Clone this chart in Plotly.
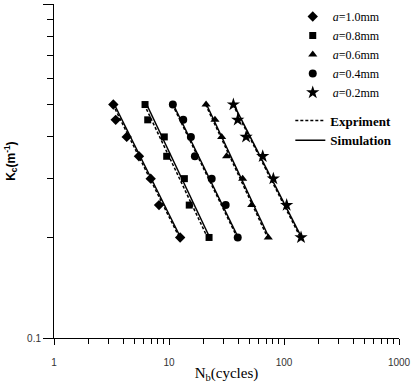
import plotly.graph_objects as go

# ---- data ----
kc_levels = [0.5, 0.45, 0.4, 0.35, 0.3, 0.25, 0.2]
nb_a10 = [3.28, 3.44, 4.29, 5.48, 6.93, 8.19, 12.5]
nb_a08 = [6.19, 6.53, 9.10, 9.55, 13.6, 15.0, 22.3]
nb_a06 = [21.0, 25.1, 28.7, 31.7, 43.7, 52.4, 73.0]
nb_a04 = [10.8, 13.3, 15.5, 16.8, 23.5, 31.1, 39.6]
nb_a02 = [36.3, 39.6, 46.8, 65.3, 80.8, 105.5, 140.6]

kc_fit = [0.5, 0.2]
exp_a10 = [3.25, 12.3]
sim_a10 = [3.35, 12.6]
exp_a08 = [6.1, 21.6]
sim_a08 = [6.4, 22.6]
exp_a06 = [20.8, 72.0]
sim_a06 = [21.2, 74.0]
exp_a04 = [10.7, 39.2]
sim_a04 = [10.9, 40.0]
exp_a02 = [36.0, 139.0]
sim_a02 = [36.6, 142.0]

series_names = ["<i>a</i>=1.0mm", "<i>a</i>=0.8mm", "<i>a</i>=0.6mm",
                "<i>a</i>=0.4mm", "<i>a</i>=0.2mm"]
series_nb = [nb_a10, nb_a08, nb_a06, nb_a04, nb_a02]
series_exp = [exp_a10, exp_a08, exp_a06, exp_a04, exp_a02]
series_sim = [sim_a10, sim_a08, sim_a06, sim_a04, sim_a02]
symbols = ["diamond", "square", "triangle-up", "circle", "star"]
sizes = [8, 7, 8, 8, 10]

x_major = [1, 10, 100, 1000]
x_major_text = ["1", "10", "100", "1000"]
x_minor = [m * d for d in (1, 10, 100) for m in range(2, 10)]
y_major = [0.1, 1]
y_major_text = ["0.1", "1"]
y_minor = [0.2, 0.3, 0.4, 0.5, 0.6, 0.7, 0.8, 0.9]

fig = go.Figure()

# lines (experiment dashed, simulation solid)
for i in range(5):
    fig.add_trace(go.Scatter(
        x=series_exp[i], y=kc_fit, mode="lines",
        line=dict(color="black", width=1.5, dash="3px,2px"),
        name="Expriment", legend="legend2", showlegend=(i == 0)))
for i in range(5):
    fig.add_trace(go.Scatter(
        x=series_sim[i], y=kc_fit, mode="lines",
        line=dict(color="black", width=1.5),
        name="Simulation", legend="legend2", showlegend=(i == 0)))

# markers
for i in range(5):
    fig.add_trace(go.Scatter(
        x=series_nb[i], y=kc_levels, mode="markers",
        marker=dict(symbol=symbols[i], size=sizes[i], color="black",
                    line=dict(width=0)),
        name=series_names[i], legend="legend"))

tickfont = dict(family="Liberation Sans, Arial, sans-serif", size=10, color="#333")

fig.update_layout(
    width=414, height=388,
    margin=dict(l=54, r=15, t=3, b=50),
    paper_bgcolor="white", plot_bgcolor="white",
    xaxis=dict(
        type="log", range=[0, 3], showgrid=False, zeroline=False,
        showline=True, linecolor="black", linewidth=1,
        ticks="outside", ticklen=6, tickcolor="black",
        tickvals=x_major, ticktext=x_major_text, tickfont=tickfont,
        ticklabelstandoff=9,
        minor=dict(ticks="outside", ticklen=5, tickcolor="black", tickvals=x_minor),
        title=dict(text="N<sub>b</sub>(cycles)", standoff=0,
                   font=dict(family="Liberation Serif, Times New Roman, serif",
                             size=15, color="black")),
    ),
    yaxis=dict(
        type="log", range=[-1, 0], showgrid=False, zeroline=False,
        showline=True, linecolor="black", linewidth=1,
        ticks="outside", ticklen=10, tickcolor="black",
        tickvals=y_major, ticktext=y_major_text, tickfont=tickfont,
        minor=dict(ticks="outside", ticklen=6, tickcolor="black", tickvals=y_minor),
    ),
    legend=dict(
        x=0.692, y=1.003, xanchor="left", yanchor="top",
        bgcolor="rgba(0,0,0,0)", borderwidth=0, itemwidth=30,
        font=dict(family="Liberation Serif, Times New Roman, serif", size=12, color="black"),
        tracegroupgap=0,
    ),
    legend2=dict(
        x=0.685, y=0.694, xanchor="left", yanchor="top",
        bgcolor="rgba(0,0,0,0)", borderwidth=0, itemwidth=30,
        font=dict(family="Liberation Serif, Times New Roman, serif", size=13, color="black",
                  weight="bold"),
    ),
    annotations=[dict(
        text="<b>K<sub>c</sub>(m<sup>-1</sup>)</b>", textangle=-90,
        xref="paper", yref="paper", x=-0.125, y=0.53,
        xanchor="center", yanchor="middle", showarrow=False,
        font=dict(family="Liberation Sans, Arial, sans-serif", size=12, color="black"),
    )],
    showlegend=True,
)

fig.write_html("out.html")
